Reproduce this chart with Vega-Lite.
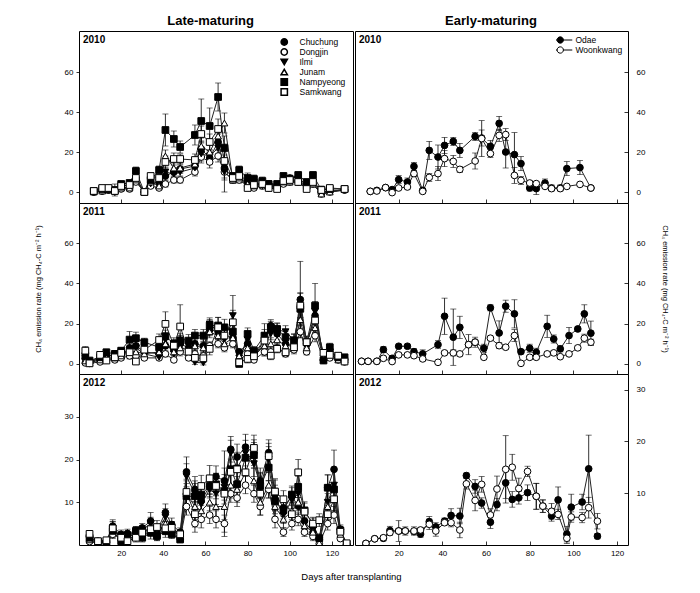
{
"$schema":"https://vega.github.io/schema/vega-lite/v6.json",
"padding":{"left":33,"top":14,"right":20,"bottom":8},
"background":"white",
"config":{
 "font":"Liberation Sans",
 "view":{"stroke":"black","strokeWidth":1},
 "axis":{"labelFont":"Liberation Sans","labelFontSize":8,"labelColor":"black","tickColor":"black","tickWidth":0.8,"domain":false,"grid":false,"titleFont":"Liberation Sans","titleFontSize":7.5,"titleColor":"black","titleFontWeight":"normal"},
 "legend":{"labelFont":"Liberation Sans","labelFontSize":8.5,"labelColor":"black","symbolSize":40,"rowPadding":1,"padding":0,"labelOffset":11,"clipHeight":8},
 "title":{"font":"Liberation Sans","color":"black"}
},
"title":{"text":"Days after transplanting","orient":"bottom","anchor":"middle","fontSize":9.5,"fontWeight":"normal","offset":14},
"datasets":{
"L10":[
{"s":"Chuchung","d":7,"v":0,"e":0.3},{"s":"Chuchung","d":11,"v":0.5,"e":0.3},{"s":"Chuchung","d":14,"v":1,"e":0.5},{"s":"Chuchung","d":17,"v":0.3,"e":0.5},{"s":"Chuchung","d":20,"v":2,"e":0.5},{"s":"Chuchung","d":24,"v":2.5,"e":0.8},{"s":"Chuchung","d":27,"v":7,"e":1.5},{"s":"Chuchung","d":31,"v":0,"e":0.5},{"s":"Chuchung","d":34,"v":4,"e":1.5},{"s":"Chuchung","d":38,"v":5,"e":1.5},{"s":"Chuchung","d":41,"v":8,"e":2},{"s":"Chuchung","d":45,"v":10,"e":2},{"s":"Chuchung","d":48,"v":11.5,"e":2},{"s":"Chuchung","d":55,"v":13,"e":2.5},{"s":"Chuchung","d":58,"v":21.5,"e":4},{"s":"Chuchung","d":62,"v":17,"e":3},{"s":"Chuchung","d":66,"v":25,"e":4},{"s":"Chuchung","d":69,"v":12,"e":12},{"s":"Chuchung","d":73,"v":7,"e":1.5},{"s":"Chuchung","d":76,"v":9,"e":2},{"s":"Chuchung","d":80,"v":5,"e":2},{"s":"Chuchung","d":83,"v":4,"e":1.5},{"s":"Chuchung","d":87,"v":4,"e":1.5},{"s":"Chuchung","d":90,"v":4,"e":1.5},{"s":"Chuchung","d":94,"v":3,"e":1},{"s":"Chuchung","d":97,"v":5,"e":1.5},{"s":"Chuchung","d":100,"v":7,"e":1.5},{"s":"Chuchung","d":104,"v":7.5,"e":1.5},{"s":"Chuchung","d":108,"v":3,"e":1},{"s":"Chuchung","d":111,"v":6,"e":1.5},{"s":"Chuchung","d":115,"v":0,"e":1},{"s":"Chuchung","d":119,"v":0.5,"e":0.5},{"s":"Chuchung","d":126,"v":1,"e":0.3},
{"s":"Dongjin","d":7,"v":0,"e":0.3},{"s":"Dongjin","d":11,"v":0.5,"e":0.3},{"s":"Dongjin","d":14,"v":1,"e":0.5},{"s":"Dongjin","d":17,"v":0.2,"e":0.5},{"s":"Dongjin","d":20,"v":1.5,"e":0.5},{"s":"Dongjin","d":24,"v":1.5,"e":0.5},{"s":"Dongjin","d":27,"v":5,"e":1},{"s":"Dongjin","d":31,"v":0,"e":0.5},{"s":"Dongjin","d":34,"v":3,"e":1},{"s":"Dongjin","d":38,"v":2,"e":1},{"s":"Dongjin","d":41,"v":4,"e":1.5},{"s":"Dongjin","d":45,"v":6,"e":1.5},{"s":"Dongjin","d":48,"v":6,"e":1.5},{"s":"Dongjin","d":55,"v":10,"e":2},{"s":"Dongjin","d":58,"v":17.5,"e":3},{"s":"Dongjin","d":62,"v":15,"e":3},{"s":"Dongjin","d":66,"v":18,"e":3},{"s":"Dongjin","d":69,"v":10,"e":3},{"s":"Dongjin","d":73,"v":6,"e":1.5},{"s":"Dongjin","d":76,"v":6,"e":1.5},{"s":"Dongjin","d":80,"v":3,"e":1},{"s":"Dongjin","d":83,"v":2,"e":1},{"s":"Dongjin","d":87,"v":3,"e":1},{"s":"Dongjin","d":90,"v":2,"e":1},{"s":"Dongjin","d":94,"v":2,"e":1},{"s":"Dongjin","d":97,"v":4,"e":1},{"s":"Dongjin","d":100,"v":5,"e":1},{"s":"Dongjin","d":104,"v":5,"e":1},{"s":"Dongjin","d":108,"v":2,"e":1},{"s":"Dongjin","d":111,"v":4,"e":1},{"s":"Dongjin","d":115,"v":-1,"e":1},{"s":"Dongjin","d":119,"v":0,"e":0.5},{"s":"Dongjin","d":126,"v":1,"e":0.3},
{"s":"Ilmi","d":7,"v":0,"e":0.3},{"s":"Ilmi","d":11,"v":0.5,"e":0.3},{"s":"Ilmi","d":14,"v":1,"e":0.5},{"s":"Ilmi","d":17,"v":0,"e":0.5},{"s":"Ilmi","d":20,"v":2,"e":0.5},{"s":"Ilmi","d":24,"v":2,"e":0.8},{"s":"Ilmi","d":27,"v":6,"e":1.5},{"s":"Ilmi","d":31,"v":0,"e":0.5},{"s":"Ilmi","d":34,"v":4,"e":1.5},{"s":"Ilmi","d":38,"v":5,"e":1.5},{"s":"Ilmi","d":41,"v":10,"e":2.5},{"s":"Ilmi","d":45,"v":9,"e":2},{"s":"Ilmi","d":48,"v":10,"e":2},{"s":"Ilmi","d":55,"v":12,"e":2.5},{"s":"Ilmi","d":58,"v":19,"e":3.5},{"s":"Ilmi","d":62,"v":18,"e":3},{"s":"Ilmi","d":66,"v":22,"e":4},{"s":"Ilmi","d":69,"v":10,"e":4},{"s":"Ilmi","d":73,"v":6,"e":1.5},{"s":"Ilmi","d":76,"v":8,"e":2},{"s":"Ilmi","d":80,"v":4,"e":1.5},{"s":"Ilmi","d":83,"v":3,"e":1.5},{"s":"Ilmi","d":87,"v":3,"e":1.5},{"s":"Ilmi","d":90,"v":3,"e":1.5},{"s":"Ilmi","d":94,"v":2,"e":1},{"s":"Ilmi","d":97,"v":5,"e":1.5},{"s":"Ilmi","d":100,"v":6,"e":1.5},{"s":"Ilmi","d":104,"v":6,"e":1.5},{"s":"Ilmi","d":108,"v":2,"e":1},{"s":"Ilmi","d":111,"v":5,"e":1.5},{"s":"Ilmi","d":115,"v":-1,"e":1},{"s":"Ilmi","d":119,"v":0,"e":0.5},{"s":"Ilmi","d":126,"v":1,"e":0.3},
{"s":"Junam","d":7,"v":0,"e":0.3},{"s":"Junam","d":11,"v":0.5,"e":0.3},{"s":"Junam","d":14,"v":1,"e":0.5},{"s":"Junam","d":17,"v":0.5,"e":0.5},{"s":"Junam","d":20,"v":2,"e":0.5},{"s":"Junam","d":24,"v":2,"e":0.8},{"s":"Junam","d":27,"v":6,"e":1.5},{"s":"Junam","d":31,"v":0,"e":0.5},{"s":"Junam","d":34,"v":5,"e":1.5},{"s":"Junam","d":38,"v":3,"e":1},{"s":"Junam","d":41,"v":18,"e":3},{"s":"Junam","d":45,"v":12,"e":2.5},{"s":"Junam","d":48,"v":12,"e":2.5},{"s":"Junam","d":55,"v":14,"e":3},{"s":"Junam","d":58,"v":23,"e":4},{"s":"Junam","d":62,"v":20,"e":3.5},{"s":"Junam","d":66,"v":28,"e":5},{"s":"Junam","d":69,"v":34.5,"e":5},{"s":"Junam","d":73,"v":6,"e":1.5},{"s":"Junam","d":76,"v":7,"e":2},{"s":"Junam","d":80,"v":4,"e":1.5},{"s":"Junam","d":83,"v":3,"e":1},{"s":"Junam","d":87,"v":4,"e":1.5},{"s":"Junam","d":90,"v":3,"e":1},{"s":"Junam","d":94,"v":3,"e":1},{"s":"Junam","d":97,"v":5,"e":1.5},{"s":"Junam","d":100,"v":5,"e":1.5},{"s":"Junam","d":104,"v":6,"e":1.5},{"s":"Junam","d":108,"v":3,"e":1},{"s":"Junam","d":111,"v":4,"e":1.5},{"s":"Junam","d":115,"v":-1,"e":1},{"s":"Junam","d":119,"v":0,"e":0.5},{"s":"Junam","d":126,"v":1.5,"e":0.3},
{"s":"Nampyeong","d":7,"v":0.5,"e":0.5},{"s":"Nampyeong","d":11,"v":1.5,"e":0.5},{"s":"Nampyeong","d":14,"v":1.5,"e":0.5},{"s":"Nampyeong","d":17,"v":1,"e":3},{"s":"Nampyeong","d":20,"v":4,"e":1},{"s":"Nampyeong","d":24,"v":4.5,"e":1.5},{"s":"Nampyeong","d":27,"v":10.5,"e":2},{"s":"Nampyeong","d":31,"v":0,"e":0.5},{"s":"Nampyeong","d":34,"v":6,"e":1.5},{"s":"Nampyeong","d":38,"v":11,"e":2},{"s":"Nampyeong","d":41,"v":31,"e":8},{"s":"Nampyeong","d":45,"v":26.5,"e":4},{"s":"Nampyeong","d":48,"v":22.5,"e":3},{"s":"Nampyeong","d":55,"v":28.5,"e":5},{"s":"Nampyeong","d":58,"v":35.5,"e":11},{"s":"Nampyeong","d":62,"v":33,"e":9},{"s":"Nampyeong","d":66,"v":47.5,"e":7},{"s":"Nampyeong","d":69,"v":22,"e":6},{"s":"Nampyeong","d":73,"v":8,"e":1.5},{"s":"Nampyeong","d":76,"v":11,"e":2},{"s":"Nampyeong","d":80,"v":7,"e":2.5},{"s":"Nampyeong","d":83,"v":6.5,"e":2},{"s":"Nampyeong","d":87,"v":5.5,"e":2},{"s":"Nampyeong","d":90,"v":4,"e":1.5},{"s":"Nampyeong","d":94,"v":4,"e":1.5},{"s":"Nampyeong","d":97,"v":8,"e":1.5},{"s":"Nampyeong","d":100,"v":6.5,"e":1.5},{"s":"Nampyeong","d":104,"v":8.5,"e":1.5},{"s":"Nampyeong","d":108,"v":5,"e":1},{"s":"Nampyeong","d":111,"v":8.5,"e":1.5},{"s":"Nampyeong","d":115,"v":1,"e":2},{"s":"Nampyeong","d":119,"v":1.5,"e":0.5},{"s":"Nampyeong","d":126,"v":1.5,"e":0.5},
{"s":"Samkwang","d":7,"v":0.5,"e":0.5},{"s":"Samkwang","d":11,"v":2,"e":0.5},{"s":"Samkwang","d":14,"v":2,"e":0.5},{"s":"Samkwang","d":17,"v":0.5,"e":1},{"s":"Samkwang","d":20,"v":3,"e":1},{"s":"Samkwang","d":24,"v":3.5,"e":1},{"s":"Samkwang","d":27,"v":7,"e":1.5},{"s":"Samkwang","d":31,"v":0,"e":0.5},{"s":"Samkwang","d":34,"v":8,"e":1.5},{"s":"Samkwang","d":38,"v":7,"e":1.5},{"s":"Samkwang","d":41,"v":15,"e":3},{"s":"Samkwang","d":45,"v":16.5,"e":3},{"s":"Samkwang","d":48,"v":16.5,"e":2.5},{"s":"Samkwang","d":55,"v":16,"e":3},{"s":"Samkwang","d":58,"v":29,"e":4},{"s":"Samkwang","d":62,"v":25,"e":4},{"s":"Samkwang","d":66,"v":31.5,"e":5},{"s":"Samkwang","d":69,"v":15.5,"e":3},{"s":"Samkwang","d":73,"v":7,"e":1.5},{"s":"Samkwang","d":76,"v":8,"e":1.5},{"s":"Samkwang","d":80,"v":2,"e":1},{"s":"Samkwang","d":83,"v":3.5,"e":1},{"s":"Samkwang","d":87,"v":4,"e":1},{"s":"Samkwang","d":90,"v":2,"e":1},{"s":"Samkwang","d":94,"v":1.5,"e":1},{"s":"Samkwang","d":97,"v":5.5,"e":1.5},{"s":"Samkwang","d":100,"v":6,"e":1.5},{"s":"Samkwang","d":104,"v":5,"e":1.5},{"s":"Samkwang","d":108,"v":1.5,"e":1},{"s":"Samkwang","d":111,"v":5,"e":1.5},{"s":"Samkwang","d":115,"v":1,"e":1},{"s":"Samkwang","d":119,"v":2,"e":0.5},{"s":"Samkwang","d":126,"v":1.5,"e":0.5}
],
"L11":[
{"s":"Chuchung","d":3,"v":2.5,"e":1},{"s":"Chuchung","d":5,"v":1,"e":0.5},{"s":"Chuchung","d":10,"v":2.5,"e":1},{"s":"Chuchung","d":13,"v":4,"e":1.5},{"s":"Chuchung","d":17,"v":4,"e":1.5},{"s":"Chuchung","d":20,"v":4.5,"e":1.5},{"s":"Chuchung","d":24,"v":8,"e":2},{"s":"Chuchung","d":27,"v":9,"e":2},{"s":"Chuchung","d":31,"v":6,"e":2},{"s":"Chuchung","d":38,"v":5,"e":2},{"s":"Chuchung","d":41,"v":9,"e":3},{"s":"Chuchung","d":45,"v":7,"e":3},{"s":"Chuchung","d":48,"v":10,"e":3},{"s":"Chuchung","d":52,"v":8,"e":3},{"s":"Chuchung","d":55,"v":10,"e":3},{"s":"Chuchung","d":59,"v":9,"e":3},{"s":"Chuchung","d":62,"v":17,"e":3},{"s":"Chuchung","d":66,"v":16,"e":4},{"s":"Chuchung","d":69,"v":14,"e":4},{"s":"Chuchung","d":73,"v":13,"e":4},{"s":"Chuchung","d":76,"v":6,"e":1.5},{"s":"Chuchung","d":80,"v":10,"e":3},{"s":"Chuchung","d":83,"v":5,"e":2},{"s":"Chuchung","d":88,"v":12,"e":8},{"s":"Chuchung","d":91,"v":19,"e":3},{"s":"Chuchung","d":94,"v":15,"e":3},{"s":"Chuchung","d":98,"v":10,"e":2},{"s":"Chuchung","d":102,"v":9,"e":3},{"s":"Chuchung","d":105,"v":32,"e":19},{"s":"Chuchung","d":108,"v":10,"e":2},{"s":"Chuchung","d":112,"v":24,"e":6},{"s":"Chuchung","d":116,"v":2,"e":1},{"s":"Chuchung","d":119,"v":7,"e":2},{"s":"Chuchung","d":123,"v":3,"e":1},{"s":"Chuchung","d":126,"v":2,"e":0.5},
{"s":"Dongjin","d":3,"v":0.5,"e":0.5},{"s":"Dongjin","d":5,"v":0.3,"e":0.3},{"s":"Dongjin","d":10,"v":1,"e":0.5},{"s":"Dongjin","d":13,"v":2,"e":1},{"s":"Dongjin","d":17,"v":2,"e":1},{"s":"Dongjin","d":20,"v":3,"e":1},{"s":"Dongjin","d":24,"v":4,"e":1.5},{"s":"Dongjin","d":27,"v":4,"e":1.5},{"s":"Dongjin","d":31,"v":3,"e":1},{"s":"Dongjin","d":38,"v":3,"e":1},{"s":"Dongjin","d":41,"v":5,"e":1.5},{"s":"Dongjin","d":45,"v":2,"e":1},{"s":"Dongjin","d":48,"v":6,"e":2},{"s":"Dongjin","d":52,"v":3,"e":1},{"s":"Dongjin","d":55,"v":5,"e":1.5},{"s":"Dongjin","d":59,"v":4,"e":1.5},{"s":"Dongjin","d":62,"v":9,"e":2},{"s":"Dongjin","d":66,"v":10,"e":2},{"s":"Dongjin","d":69,"v":8,"e":2},{"s":"Dongjin","d":73,"v":10,"e":2},{"s":"Dongjin","d":76,"v":2,"e":1},{"s":"Dongjin","d":80,"v":5,"e":1.5},{"s":"Dongjin","d":83,"v":2,"e":1},{"s":"Dongjin","d":88,"v":6,"e":2},{"s":"Dongjin","d":91,"v":6,"e":2},{"s":"Dongjin","d":94,"v":8,"e":2},{"s":"Dongjin","d":98,"v":5,"e":1.5},{"s":"Dongjin","d":102,"v":7,"e":2},{"s":"Dongjin","d":105,"v":16,"e":3},{"s":"Dongjin","d":108,"v":6,"e":1.5},{"s":"Dongjin","d":112,"v":14,"e":3},{"s":"Dongjin","d":116,"v":2,"e":0.5},{"s":"Dongjin","d":119,"v":3,"e":1},{"s":"Dongjin","d":123,"v":2,"e":0.5},{"s":"Dongjin","d":126,"v":1,"e":0.3},
{"s":"Ilmi","d":3,"v":3,"e":1},{"s":"Ilmi","d":5,"v":1,"e":0.5},{"s":"Ilmi","d":10,"v":3,"e":1},{"s":"Ilmi","d":13,"v":4,"e":1.5},{"s":"Ilmi","d":17,"v":4.5,"e":1.5},{"s":"Ilmi","d":20,"v":5,"e":1.5},{"s":"Ilmi","d":24,"v":7,"e":2},{"s":"Ilmi","d":27,"v":8,"e":2},{"s":"Ilmi","d":31,"v":5,"e":2},{"s":"Ilmi","d":38,"v":3.3,"e":1},{"s":"Ilmi","d":41,"v":12,"e":3},{"s":"Ilmi","d":45,"v":5,"e":2},{"s":"Ilmi","d":48,"v":12,"e":3},{"s":"Ilmi","d":52,"v":9,"e":3},{"s":"Ilmi","d":55,"v":0.8,"e":1},{"s":"Ilmi","d":59,"v":0.5,"e":1},{"s":"Ilmi","d":62,"v":19.9,"e":3},{"s":"Ilmi","d":66,"v":16,"e":3},{"s":"Ilmi","d":69,"v":12,"e":3},{"s":"Ilmi","d":73,"v":24,"e":10},{"s":"Ilmi","d":76,"v":3,"e":1.5},{"s":"Ilmi","d":80,"v":12,"e":3},{"s":"Ilmi","d":83,"v":4,"e":2},{"s":"Ilmi","d":88,"v":10,"e":3},{"s":"Ilmi","d":91,"v":15,"e":3},{"s":"Ilmi","d":94,"v":17,"e":3},{"s":"Ilmi","d":98,"v":16,"e":3},{"s":"Ilmi","d":102,"v":12,"e":3},{"s":"Ilmi","d":105,"v":28,"e":5},{"s":"Ilmi","d":108,"v":9,"e":3},{"s":"Ilmi","d":112,"v":26,"e":5},{"s":"Ilmi","d":116,"v":3,"e":1},{"s":"Ilmi","d":119,"v":6,"e":2},{"s":"Ilmi","d":123,"v":3,"e":1},{"s":"Ilmi","d":126,"v":2,"e":0.5},
{"s":"Junam","d":3,"v":1.5,"e":1},{"s":"Junam","d":5,"v":0.5,"e":0.5},{"s":"Junam","d":10,"v":2,"e":1},{"s":"Junam","d":13,"v":3,"e":1},{"s":"Junam","d":17,"v":3,"e":1.5},{"s":"Junam","d":20,"v":4,"e":1.5},{"s":"Junam","d":24,"v":6,"e":2},{"s":"Junam","d":27,"v":6,"e":2},{"s":"Junam","d":31,"v":5,"e":1.5},{"s":"Junam","d":38,"v":6,"e":2},{"s":"Junam","d":41,"v":10,"e":2.5},{"s":"Junam","d":45,"v":6,"e":2},{"s":"Junam","d":48,"v":8,"e":2.5},{"s":"Junam","d":52,"v":7,"e":2.5},{"s":"Junam","d":55,"v":9,"e":2.5},{"s":"Junam","d":59,"v":8,"e":2.5},{"s":"Junam","d":62,"v":16,"e":3},{"s":"Junam","d":66,"v":14,"e":3},{"s":"Junam","d":69,"v":10,"e":3},{"s":"Junam","d":73,"v":13,"e":3},{"s":"Junam","d":76,"v":4,"e":1.5},{"s":"Junam","d":80,"v":8,"e":2.5},{"s":"Junam","d":83,"v":4,"e":1.5},{"s":"Junam","d":88,"v":9,"e":2.5},{"s":"Junam","d":91,"v":10,"e":3},{"s":"Junam","d":94,"v":12,"e":3},{"s":"Junam","d":98,"v":9,"e":2.5},{"s":"Junam","d":102,"v":9,"e":2.5},{"s":"Junam","d":105,"v":22,"e":5},{"s":"Junam","d":108,"v":8,"e":2.5},{"s":"Junam","d":112,"v":18,"e":4},{"s":"Junam","d":116,"v":3,"e":1},{"s":"Junam","d":119,"v":5,"e":1.5},{"s":"Junam","d":123,"v":2,"e":1},{"s":"Junam","d":126,"v":2,"e":0.5},
{"s":"Nampyeong","d":3,"v":4,"e":1.5},{"s":"Nampyeong","d":5,"v":1.7,"e":0.5},{"s":"Nampyeong","d":10,"v":3.3,"e":1},{"s":"Nampyeong","d":13,"v":5.8,"e":1.5},{"s":"Nampyeong","d":17,"v":5,"e":1.5},{"s":"Nampyeong","d":20,"v":6.6,"e":1.5},{"s":"Nampyeong","d":24,"v":12.1,"e":4},{"s":"Nampyeong","d":27,"v":12.8,"e":3},{"s":"Nampyeong","d":31,"v":10.8,"e":2},{"s":"Nampyeong","d":38,"v":8.3,"e":3},{"s":"Nampyeong","d":41,"v":13.8,"e":3},{"s":"Nampyeong","d":45,"v":10,"e":3},{"s":"Nampyeong","d":48,"v":11.1,"e":3},{"s":"Nampyeong","d":52,"v":11.6,"e":3},{"s":"Nampyeong","d":55,"v":14.1,"e":3},{"s":"Nampyeong","d":59,"v":14.1,"e":3},{"s":"Nampyeong","d":62,"v":19.1,"e":3},{"s":"Nampyeong","d":66,"v":19.1,"e":4},{"s":"Nampyeong","d":69,"v":18.2,"e":4},{"s":"Nampyeong","d":73,"v":16.1,"e":4},{"s":"Nampyeong","d":76,"v":0,"e":1},{"s":"Nampyeong","d":80,"v":14.9,"e":3},{"s":"Nampyeong","d":83,"v":6.6,"e":2},{"s":"Nampyeong","d":88,"v":14.1,"e":3},{"s":"Nampyeong","d":91,"v":18.2,"e":3},{"s":"Nampyeong","d":94,"v":17.4,"e":3},{"s":"Nampyeong","d":98,"v":13.3,"e":3},{"s":"Nampyeong","d":102,"v":11.6,"e":3},{"s":"Nampyeong","d":105,"v":27.4,"e":8},{"s":"Nampyeong","d":108,"v":10.8,"e":3},{"s":"Nampyeong","d":112,"v":29,"e":11},{"s":"Nampyeong","d":116,"v":1.7,"e":1},{"s":"Nampyeong","d":119,"v":8.3,"e":2},{"s":"Nampyeong","d":123,"v":3.3,"e":1},{"s":"Nampyeong","d":126,"v":3.3,"e":0.5},
{"s":"Samkwang","d":3,"v":6.6,"e":2},{"s":"Samkwang","d":5,"v":0.3,"e":0.5},{"s":"Samkwang","d":10,"v":4.5,"e":1},{"s":"Samkwang","d":13,"v":1.7,"e":1},{"s":"Samkwang","d":17,"v":3.3,"e":1.5},{"s":"Samkwang","d":20,"v":5.5,"e":1.5},{"s":"Samkwang","d":24,"v":5.8,"e":2},{"s":"Samkwang","d":27,"v":1.2,"e":1},{"s":"Samkwang","d":31,"v":7.1,"e":2},{"s":"Samkwang","d":38,"v":11.9,"e":3},{"s":"Samkwang","d":41,"v":19.9,"e":6},{"s":"Samkwang","d":45,"v":9.1,"e":3},{"s":"Samkwang","d":48,"v":18.6,"e":10.8},{"s":"Samkwang","d":52,"v":6.1,"e":3},{"s":"Samkwang","d":55,"v":3,"e":2},{"s":"Samkwang","d":59,"v":2.8,"e":2},{"s":"Samkwang","d":62,"v":7.5,"e":3},{"s":"Samkwang","d":66,"v":18.2,"e":5},{"s":"Samkwang","d":69,"v":14.1,"e":4},{"s":"Samkwang","d":73,"v":20.7,"e":6},{"s":"Samkwang","d":76,"v":0.8,"e":1},{"s":"Samkwang","d":80,"v":2.5,"e":2},{"s":"Samkwang","d":83,"v":3.8,"e":2},{"s":"Samkwang","d":88,"v":11.6,"e":4},{"s":"Samkwang","d":91,"v":4.1,"e":2},{"s":"Samkwang","d":94,"v":7.5,"e":2},{"s":"Samkwang","d":98,"v":5.8,"e":2},{"s":"Samkwang","d":102,"v":8.3,"e":2},{"s":"Samkwang","d":105,"v":29,"e":6},{"s":"Samkwang","d":108,"v":10.8,"e":3},{"s":"Samkwang","d":112,"v":21.6,"e":6},{"s":"Samkwang","d":116,"v":5.5,"e":1.5},{"s":"Samkwang","d":119,"v":4.5,"e":1.5},{"s":"Samkwang","d":123,"v":4.1,"e":1},{"s":"Samkwang","d":126,"v":1.2,"e":0.5}
],
"L12":[
{"s":"Chuchung","d":5,"v":1.9,"e":0.5},{"s":"Chuchung","d":9,"v":0.9,"e":0.3},{"s":"Chuchung","d":13,"v":0.9,"e":0.3},{"s":"Chuchung","d":16,"v":4.4,"e":1.5},{"s":"Chuchung","d":20,"v":2.5,"e":1},{"s":"Chuchung","d":23,"v":2.7,"e":1},{"s":"Chuchung","d":27,"v":3.3,"e":1},{"s":"Chuchung","d":30,"v":4,"e":1},{"s":"Chuchung","d":34,"v":5.6,"e":2},{"s":"Chuchung","d":37,"v":3.3,"e":1},{"s":"Chuchung","d":41,"v":7.6,"e":2},{"s":"Chuchung","d":44,"v":4.8,"e":1.5},{"s":"Chuchung","d":48,"v":3,"e":1},{"s":"Chuchung","d":51,"v":17.1,"e":3.5},{"s":"Chuchung","d":55,"v":13,"e":3},{"s":"Chuchung","d":58,"v":10.3,"e":2},{"s":"Chuchung","d":62,"v":13.8,"e":2},{"s":"Chuchung","d":65,"v":16,"e":2.5},{"s":"Chuchung","d":69,"v":15,"e":3},{"s":"Chuchung","d":72,"v":22.4,"e":3},{"s":"Chuchung","d":75,"v":20.6,"e":3},{"s":"Chuchung","d":79,"v":22.9,"e":3},{"s":"Chuchung","d":83,"v":21.6,"e":3},{"s":"Chuchung","d":86,"v":15,"e":3},{"s":"Chuchung","d":90,"v":21.6,"e":3},{"s":"Chuchung","d":93,"v":12.2,"e":3},{"s":"Chuchung","d":97,"v":8.7,"e":2},{"s":"Chuchung","d":101,"v":11.4,"e":2},{"s":"Chuchung","d":104,"v":9.1,"e":2},{"s":"Chuchung","d":107,"v":5.6,"e":2},{"s":"Chuchung","d":111,"v":2.9,"e":1.5},{"s":"Chuchung","d":114,"v":1.3,"e":1},{"s":"Chuchung","d":118,"v":13.4,"e":3},{"s":"Chuchung","d":121,"v":17.7,"e":4.5},{"s":"Chuchung","d":124,"v":3.7,"e":1},{"s":"Chuchung","d":127,"v":0.2,"e":0.2},
{"s":"Dongjin","d":5,"v":0.8,"e":0.3},{"s":"Dongjin","d":9,"v":0.4,"e":0.2},{"s":"Dongjin","d":13,"v":0.6,"e":0.3},{"s":"Dongjin","d":16,"v":2.5,"e":1},{"s":"Dongjin","d":20,"v":1.5,"e":0.8},{"s":"Dongjin","d":23,"v":1.5,"e":0.8},{"s":"Dongjin","d":27,"v":2,"e":0.8},{"s":"Dongjin","d":30,"v":2.5,"e":1},{"s":"Dongjin","d":34,"v":3,"e":1},{"s":"Dongjin","d":37,"v":2,"e":1},{"s":"Dongjin","d":41,"v":4,"e":1.5},{"s":"Dongjin","d":44,"v":3,"e":1},{"s":"Dongjin","d":48,"v":1.5,"e":0.8},{"s":"Dongjin","d":51,"v":9,"e":2},{"s":"Dongjin","d":55,"v":5,"e":2},{"s":"Dongjin","d":58,"v":6,"e":2},{"s":"Dongjin","d":62,"v":7,"e":2},{"s":"Dongjin","d":65,"v":6,"e":2},{"s":"Dongjin","d":69,"v":5,"e":2},{"s":"Dongjin","d":72,"v":12,"e":2},{"s":"Dongjin","d":75,"v":11,"e":2},{"s":"Dongjin","d":79,"v":14,"e":2},{"s":"Dongjin","d":83,"v":12,"e":2},{"s":"Dongjin","d":86,"v":9,"e":2},{"s":"Dongjin","d":90,"v":13,"e":2},{"s":"Dongjin","d":93,"v":6,"e":2},{"s":"Dongjin","d":97,"v":3,"e":1},{"s":"Dongjin","d":101,"v":5,"e":1.5},{"s":"Dongjin","d":104,"v":6,"e":1.5},{"s":"Dongjin","d":107,"v":3,"e":1},{"s":"Dongjin","d":111,"v":2,"e":1},{"s":"Dongjin","d":114,"v":0.3,"e":0.3},{"s":"Dongjin","d":118,"v":5,"e":1.5},{"s":"Dongjin","d":121,"v":7,"e":2},{"s":"Dongjin","d":124,"v":1.5,"e":0.5},{"s":"Dongjin","d":127,"v":0.1,"e":0.1},
{"s":"Ilmi","d":5,"v":1.5,"e":0.5},{"s":"Ilmi","d":9,"v":0.7,"e":0.3},{"s":"Ilmi","d":13,"v":0.8,"e":0.3},{"s":"Ilmi","d":16,"v":4,"e":1.5},{"s":"Ilmi","d":20,"v":2,"e":1},{"s":"Ilmi","d":23,"v":2.2,"e":1},{"s":"Ilmi","d":27,"v":3,"e":1},{"s":"Ilmi","d":30,"v":3.5,"e":1},{"s":"Ilmi","d":34,"v":5,"e":1.5},{"s":"Ilmi","d":37,"v":3,"e":1},{"s":"Ilmi","d":41,"v":6.5,"e":2},{"s":"Ilmi","d":44,"v":4,"e":1.5},{"s":"Ilmi","d":48,"v":2.5,"e":1},{"s":"Ilmi","d":51,"v":16,"e":3},{"s":"Ilmi","d":55,"v":12,"e":3},{"s":"Ilmi","d":58,"v":9.5,"e":2},{"s":"Ilmi","d":62,"v":13,"e":2},{"s":"Ilmi","d":65,"v":12,"e":2.5},{"s":"Ilmi","d":69,"v":13.5,"e":3},{"s":"Ilmi","d":72,"v":21.5,"e":3},{"s":"Ilmi","d":75,"v":18,"e":3},{"s":"Ilmi","d":79,"v":21.5,"e":3},{"s":"Ilmi","d":83,"v":19,"e":3},{"s":"Ilmi","d":86,"v":14,"e":3},{"s":"Ilmi","d":90,"v":20,"e":3},{"s":"Ilmi","d":93,"v":11,"e":3},{"s":"Ilmi","d":97,"v":7,"e":2},{"s":"Ilmi","d":101,"v":10.5,"e":2},{"s":"Ilmi","d":104,"v":12,"e":2},{"s":"Ilmi","d":107,"v":5,"e":2},{"s":"Ilmi","d":111,"v":3.5,"e":1.5},{"s":"Ilmi","d":114,"v":1,"e":1},{"s":"Ilmi","d":118,"v":10,"e":3},{"s":"Ilmi","d":121,"v":14,"e":3.5},{"s":"Ilmi","d":124,"v":3,"e":1},{"s":"Ilmi","d":127,"v":0.3,"e":0.2},
{"s":"Junam","d":5,"v":1.2,"e":0.5},{"s":"Junam","d":9,"v":0.5,"e":0.3},{"s":"Junam","d":13,"v":0.8,"e":0.3},{"s":"Junam","d":16,"v":3.5,"e":1},{"s":"Junam","d":20,"v":1.8,"e":1},{"s":"Junam","d":23,"v":2,"e":1},{"s":"Junam","d":27,"v":2.5,"e":1},{"s":"Junam","d":30,"v":3,"e":1},{"s":"Junam","d":34,"v":4,"e":1.5},{"s":"Junam","d":37,"v":2.5,"e":1},{"s":"Junam","d":41,"v":5,"e":2},{"s":"Junam","d":44,"v":3.5,"e":1.5},{"s":"Junam","d":48,"v":2,"e":1},{"s":"Junam","d":51,"v":12,"e":3},{"s":"Junam","d":55,"v":9,"e":3},{"s":"Junam","d":58,"v":8,"e":2},{"s":"Junam","d":62,"v":10,"e":2},{"s":"Junam","d":65,"v":9,"e":2.5},{"s":"Junam","d":69,"v":9,"e":3},{"s":"Junam","d":72,"v":14,"e":3},{"s":"Junam","d":75,"v":13,"e":3},{"s":"Junam","d":79,"v":17,"e":3},{"s":"Junam","d":83,"v":15,"e":3},{"s":"Junam","d":86,"v":10,"e":3},{"s":"Junam","d":90,"v":14,"e":3},{"s":"Junam","d":93,"v":9,"e":3},{"s":"Junam","d":97,"v":6,"e":2},{"s":"Junam","d":101,"v":8,"e":2},{"s":"Junam","d":104,"v":10,"e":2},{"s":"Junam","d":107,"v":4.5,"e":2},{"s":"Junam","d":111,"v":3,"e":1.5},{"s":"Junam","d":114,"v":0.5,"e":1},{"s":"Junam","d":118,"v":9,"e":3},{"s":"Junam","d":121,"v":11,"e":3},{"s":"Junam","d":124,"v":2.5,"e":1},{"s":"Junam","d":127,"v":0.2,"e":0.2},
{"s":"Nampyeong","d":5,"v":1.7,"e":0.5},{"s":"Nampyeong","d":9,"v":0.8,"e":0.3},{"s":"Nampyeong","d":13,"v":0.5,"e":0.3},{"s":"Nampyeong","d":16,"v":3.3,"e":1.5},{"s":"Nampyeong","d":20,"v":0.9,"e":0.5},{"s":"Nampyeong","d":23,"v":1.9,"e":1},{"s":"Nampyeong","d":27,"v":3.3,"e":1},{"s":"Nampyeong","d":30,"v":1.7,"e":1},{"s":"Nampyeong","d":34,"v":2.9,"e":1.5},{"s":"Nampyeong","d":37,"v":2.1,"e":1},{"s":"Nampyeong","d":41,"v":3.3,"e":1.5},{"s":"Nampyeong","d":44,"v":2.5,"e":1},{"s":"Nampyeong","d":48,"v":1.3,"e":0.8},{"s":"Nampyeong","d":51,"v":11.4,"e":3},{"s":"Nampyeong","d":55,"v":11.4,"e":3},{"s":"Nampyeong","d":58,"v":11.8,"e":2.5},{"s":"Nampyeong","d":62,"v":13.8,"e":2.5},{"s":"Nampyeong","d":65,"v":14.2,"e":2.5},{"s":"Nampyeong","d":69,"v":12.6,"e":3},{"s":"Nampyeong","d":72,"v":17.7,"e":4},{"s":"Nampyeong","d":75,"v":14.2,"e":3},{"s":"Nampyeong","d":79,"v":20.4,"e":3},{"s":"Nampyeong","d":83,"v":21,"e":3},{"s":"Nampyeong","d":86,"v":13.8,"e":3},{"s":"Nampyeong","d":90,"v":18.1,"e":3},{"s":"Nampyeong","d":93,"v":10.3,"e":3},{"s":"Nampyeong","d":97,"v":8.1,"e":2},{"s":"Nampyeong","d":101,"v":11.8,"e":2},{"s":"Nampyeong","d":104,"v":13.6,"e":2.5},{"s":"Nampyeong","d":107,"v":8.1,"e":2},{"s":"Nampyeong","d":111,"v":4.8,"e":1.5},{"s":"Nampyeong","d":114,"v":1.6,"e":1},{"s":"Nampyeong","d":118,"v":13.4,"e":3},{"s":"Nampyeong","d":121,"v":13,"e":5},{"s":"Nampyeong","d":124,"v":3.4,"e":1},{"s":"Nampyeong","d":127,"v":0.2,"e":0.2},
{"s":"Samkwang","d":5,"v":2.6,"e":0.5},{"s":"Samkwang","d":9,"v":0.9,"e":0.3},{"s":"Samkwang","d":13,"v":1.1,"e":0.3},{"s":"Samkwang","d":16,"v":3.9,"e":1.5},{"s":"Samkwang","d":20,"v":1.7,"e":1},{"s":"Samkwang","d":23,"v":0.9,"e":0.8},{"s":"Samkwang","d":27,"v":1.7,"e":1},{"s":"Samkwang","d":30,"v":2.9,"e":1},{"s":"Samkwang","d":34,"v":3.7,"e":1.5},{"s":"Samkwang","d":37,"v":4.2,"e":1.5},{"s":"Samkwang","d":41,"v":3.9,"e":1.5},{"s":"Samkwang","d":44,"v":4,"e":1.5},{"s":"Samkwang","d":48,"v":2.5,"e":1},{"s":"Samkwang","d":51,"v":12.4,"e":3},{"s":"Samkwang","d":55,"v":7.2,"e":3},{"s":"Samkwang","d":58,"v":13.8,"e":2.5},{"s":"Samkwang","d":62,"v":15.6,"e":3},{"s":"Samkwang","d":65,"v":13.8,"e":3},{"s":"Samkwang","d":69,"v":12,"e":10},{"s":"Samkwang","d":72,"v":17.1,"e":3},{"s":"Samkwang","d":75,"v":17.7,"e":4},{"s":"Samkwang","d":79,"v":17,"e":3},{"s":"Samkwang","d":83,"v":22.7,"e":3},{"s":"Samkwang","d":86,"v":12,"e":3},{"s":"Samkwang","d":90,"v":20.8,"e":3},{"s":"Samkwang","d":93,"v":12.5,"e":3},{"s":"Samkwang","d":97,"v":10.7,"e":2},{"s":"Samkwang","d":101,"v":7.2,"e":2},{"s":"Samkwang","d":104,"v":17,"e":3},{"s":"Samkwang","d":107,"v":7.8,"e":2},{"s":"Samkwang","d":111,"v":5,"e":1.5},{"s":"Samkwang","d":114,"v":5.8,"e":1.5},{"s":"Samkwang","d":118,"v":7.2,"e":2},{"s":"Samkwang","d":121,"v":10.7,"e":3},{"s":"Samkwang","d":124,"v":3.1,"e":1},{"s":"Samkwang","d":127,"v":0.4,"e":0.3}
],
"R10":[
{"s":"Odae","d":7,"v":0.3,"e":0.3},{"s":"Odae","d":10,"v":0.8,"e":0.5},{"s":"Odae","d":14,"v":2.2,"e":0.5},{"s":"Odae","d":17,"v":1.2,"e":1},{"s":"Odae","d":20,"v":6.2,"e":2},{"s":"Odae","d":24,"v":5,"e":2},{"s":"Odae","d":27,"v":12.8,"e":2},{"s":"Odae","d":31,"v":0.8,"e":1},{"s":"Odae","d":34,"v":20.8,"e":4.5},{"s":"Odae","d":38,"v":17.5,"e":6},{"s":"Odae","d":41,"v":23.3,"e":4},{"s":"Odae","d":45,"v":25.3,"e":2},{"s":"Odae","d":48,"v":20.8,"e":3.5},{"s":"Odae","d":55,"v":27.8,"e":2},{"s":"Odae","d":58,"v":27,"e":4},{"s":"Odae","d":62,"v":22.8,"e":3},{"s":"Odae","d":66,"v":34.3,"e":3.5},{"s":"Odae","d":69,"v":20,"e":8},{"s":"Odae","d":73,"v":18.7,"e":11},{"s":"Odae","d":76,"v":14.2,"e":3.5},{"s":"Odae","d":80,"v":2,"e":1.5},{"s":"Odae","d":83,"v":1.7,"e":3},{"s":"Odae","d":87,"v":4.5,"e":2},{"s":"Odae","d":90,"v":2,"e":1.5},{"s":"Odae","d":94,"v":2,"e":1.5},{"s":"Odae","d":97,"v":11.7,"e":3.5},{"s":"Odae","d":103,"v":12.2,"e":3.5},{"s":"Odae","d":108,"v":2,"e":1},
{"s":"Woonkwang","d":7,"v":0.3,"e":0.3},{"s":"Woonkwang","d":10,"v":0.5,"e":0.3},{"s":"Woonkwang","d":14,"v":2.2,"e":0.5},{"s":"Woonkwang","d":17,"v":-0.3,"e":1},{"s":"Woonkwang","d":20,"v":2,"e":0.8},{"s":"Woonkwang","d":24,"v":2.5,"e":1},{"s":"Woonkwang","d":27,"v":9.2,"e":1.5},{"s":"Woonkwang","d":31,"v":0.3,"e":1},{"s":"Woonkwang","d":34,"v":7.3,"e":2},{"s":"Woonkwang","d":38,"v":9.2,"e":3.5},{"s":"Woonkwang","d":41,"v":16.7,"e":4},{"s":"Woonkwang","d":45,"v":15.3,"e":3},{"s":"Woonkwang","d":48,"v":11.3,"e":1.5},{"s":"Woonkwang","d":55,"v":15.5,"e":4},{"s":"Woonkwang","d":58,"v":26.7,"e":9},{"s":"Woonkwang","d":62,"v":19.2,"e":2},{"s":"Woonkwang","d":66,"v":28.3,"e":3},{"s":"Woonkwang","d":69,"v":28.7,"e":3},{"s":"Woonkwang","d":73,"v":8.3,"e":4},{"s":"Woonkwang","d":76,"v":5.8,"e":2},{"s":"Woonkwang","d":80,"v":4.5,"e":1},{"s":"Woonkwang","d":83,"v":4.2,"e":1},{"s":"Woonkwang","d":87,"v":2.8,"e":1},{"s":"Woonkwang","d":90,"v":1.7,"e":1},{"s":"Woonkwang","d":94,"v":1.7,"e":1},{"s":"Woonkwang","d":97,"v":2.8,"e":1},{"s":"Woonkwang","d":103,"v":3.8,"e":1},{"s":"Woonkwang","d":108,"v":2,"e":0.5}
],
"R11":[
{"s":"Odae","d":3,"v":1.3,"e":0.5},{"s":"Odae","d":6,"v":1.3,"e":0.5},{"s":"Odae","d":10,"v":1.3,"e":0.5},{"s":"Odae","d":13,"v":7.1,"e":1.5},{"s":"Odae","d":17,"v":2.8,"e":1},{"s":"Odae","d":20,"v":8.8,"e":1},{"s":"Odae","d":24,"v":8.8,"e":1},{"s":"Odae","d":27,"v":6.1,"e":1.5},{"s":"Odae","d":31,"v":5,"e":2},{"s":"Odae","d":38,"v":9.6,"e":2},{"s":"Odae","d":41,"v":23.7,"e":9},{"s":"Odae","d":45,"v":13.3,"e":14},{"s":"Odae","d":48,"v":18.2,"e":5.5},{"s":"Odae","d":52,"v":9.6,"e":5},{"s":"Odae","d":55,"v":10.8,"e":2.5},{"s":"Odae","d":59,"v":7.8,"e":2},{"s":"Odae","d":62,"v":27.9,"e":1.5},{"s":"Odae","d":66,"v":15.4,"e":6},{"s":"Odae","d":69,"v":28.7,"e":3},{"s":"Odae","d":73,"v":24.9,"e":7},{"s":"Odae","d":76,"v":6.1,"e":1},{"s":"Odae","d":80,"v":7.8,"e":2},{"s":"Odae","d":83,"v":5.8,"e":2},{"s":"Odae","d":88,"v":18.7,"e":5.5},{"s":"Odae","d":91,"v":12.4,"e":2},{"s":"Odae","d":94,"v":7.5,"e":1.5},{"s":"Odae","d":98,"v":14.1,"e":4},{"s":"Odae","d":102,"v":17.4,"e":1},{"s":"Odae","d":105,"v":24.9,"e":4.5},{"s":"Odae","d":108,"v":15.3,"e":6},
{"s":"Woonkwang","d":3,"v":1.3,"e":0.5},{"s":"Woonkwang","d":6,"v":1.3,"e":0.5},{"s":"Woonkwang","d":10,"v":1.3,"e":0.5},{"s":"Woonkwang","d":13,"v":2.8,"e":1},{"s":"Woonkwang","d":17,"v":1.2,"e":0.8},{"s":"Woonkwang","d":20,"v":4.5,"e":1},{"s":"Woonkwang","d":24,"v":4.5,"e":1},{"s":"Woonkwang","d":27,"v":4.1,"e":1},{"s":"Woonkwang","d":31,"v":2.5,"e":1},{"s":"Woonkwang","d":38,"v":0.8,"e":0.5},{"s":"Woonkwang","d":41,"v":5.5,"e":1},{"s":"Woonkwang","d":45,"v":5.5,"e":1.5},{"s":"Woonkwang","d":48,"v":5,"e":1},{"s":"Woonkwang","d":52,"v":9.6,"e":1.5},{"s":"Woonkwang","d":55,"v":10.8,"e":1.5},{"s":"Woonkwang","d":59,"v":3.3,"e":1},{"s":"Woonkwang","d":62,"v":12.8,"e":1},{"s":"Woonkwang","d":66,"v":9.1,"e":1.5},{"s":"Woonkwang","d":69,"v":8.3,"e":1},{"s":"Woonkwang","d":73,"v":14.1,"e":3},{"s":"Woonkwang","d":76,"v":0.3,"e":0.5},{"s":"Woonkwang","d":80,"v":3.3,"e":1},{"s":"Woonkwang","d":83,"v":3.3,"e":1},{"s":"Woonkwang","d":88,"v":5,"e":1},{"s":"Woonkwang","d":91,"v":5.5,"e":1},{"s":"Woonkwang","d":94,"v":3.6,"e":0.8},{"s":"Woonkwang","d":98,"v":5,"e":1},{"s":"Woonkwang","d":102,"v":8,"e":1},{"s":"Woonkwang","d":105,"v":12.8,"e":2},{"s":"Woonkwang","d":108,"v":10.8,"e":1.5}
],
"R12":[
{"s":"Odae","d":5,"v":0.3,"e":0.2},{"s":"Odae","d":9,"v":1.2,"e":0.3},{"s":"Odae","d":13,"v":1.3,"e":0.5},{"s":"Odae","d":16,"v":2.8,"e":0.8},{"s":"Odae","d":20,"v":2.7,"e":0.5},{"s":"Odae","d":23,"v":2.7,"e":0.5},{"s":"Odae","d":27,"v":2.6,"e":0.5},{"s":"Odae","d":30,"v":2.1,"e":0.6},{"s":"Odae","d":34,"v":4.5,"e":1},{"s":"Odae","d":37,"v":3.5,"e":0.8},{"s":"Odae","d":41,"v":4.6,"e":0.6},{"s":"Odae","d":44,"v":5.7,"e":1.3},{"s":"Odae","d":48,"v":5.6,"e":1.5},{"s":"Odae","d":51,"v":13.4,"e":0.5},{"s":"Odae","d":55,"v":11.3,"e":1.3},{"s":"Odae","d":58,"v":8.1,"e":1},{"s":"Odae","d":62,"v":4.4,"e":1.2},{"s":"Odae","d":65,"v":7.8,"e":1.2},{"s":"Odae","d":69,"v":12,"e":3},{"s":"Odae","d":72,"v":8.8,"e":1.5},{"s":"Odae","d":75,"v":9.1,"e":1.2},{"s":"Odae","d":79,"v":10.1,"e":1.5},{"s":"Odae","d":83,"v":9.4,"e":2.5},{"s":"Odae","d":86,"v":7.5,"e":1.2},{"s":"Odae","d":90,"v":5.6,"e":1},{"s":"Odae","d":93,"v":8.7,"e":2.5},{"s":"Odae","d":97,"v":2.1,"e":1.5},{"s":"Odae","d":99,"v":7.3,"e":2.5},{"s":"Odae","d":104,"v":8.3,"e":1.5},{"s":"Odae","d":107,"v":14.7,"e":6.5},{"s":"Odae","d":111,"v":1.7,"e":0.5},
{"s":"Woonkwang","d":5,"v":0.3,"e":0.1},{"s":"Woonkwang","d":9,"v":1.2,"e":0.3},{"s":"Woonkwang","d":13,"v":1.4,"e":0.3},{"s":"Woonkwang","d":16,"v":2.4,"e":0.5},{"s":"Woonkwang","d":20,"v":2.7,"e":2},{"s":"Woonkwang","d":23,"v":2.7,"e":0.8},{"s":"Woonkwang","d":27,"v":2.7,"e":0.8},{"s":"Woonkwang","d":30,"v":2.9,"e":0.5},{"s":"Woonkwang","d":34,"v":4,"e":1},{"s":"Woonkwang","d":37,"v":2.7,"e":1},{"s":"Woonkwang","d":41,"v":4.3,"e":0.5},{"s":"Woonkwang","d":44,"v":4.3,"e":0.8},{"s":"Woonkwang","d":48,"v":2.9,"e":1.5},{"s":"Woonkwang","d":51,"v":11.8,"e":1},{"s":"Woonkwang","d":55,"v":8.6,"e":2},{"s":"Woonkwang","d":58,"v":11.7,"e":1.5},{"s":"Woonkwang","d":62,"v":5.8,"e":1.2},{"s":"Woonkwang","d":65,"v":10.8,"e":2.5},{"s":"Woonkwang","d":69,"v":14.6,"e":6.5},{"s":"Woonkwang","d":72,"v":15,"e":2.5},{"s":"Woonkwang","d":75,"v":10.9,"e":2},{"s":"Woonkwang","d":79,"v":14.2,"e":1},{"s":"Woonkwang","d":83,"v":9.4,"e":2.5},{"s":"Woonkwang","d":86,"v":7.5,"e":1.2},{"s":"Woonkwang","d":90,"v":6.5,"e":1.5},{"s":"Woonkwang","d":93,"v":5.9,"e":1},{"s":"Woonkwang","d":97,"v":1.3,"e":1},{"s":"Woonkwang","d":99,"v":5.4,"e":1},{"s":"Woonkwang","d":104,"v":5.3,"e":1},{"s":"Woonkwang","d":107,"v":7.2,"e":2},{"s":"Woonkwang","d":111,"v":4.6,"e":1.5}
]
},
"spacing":0,
"bounds":"full",
"resolve":{"scale":{"x":"independent","y":"independent","shape":"independent","fill":"independent"},"axis":{"x":"independent","y":"independent"},"legend":{"shape":"independent","fill":"independent"}},
"hconcat":[
{
"title":{"text":"Late-maturing","fontSize":13,"fontWeight":"bold","anchor":"middle","offset":3,"dx":17},
"spacing":0,
"bounds":"flush",
"resolve":{"scale":{"x":"independent","y":"independent","shape":"independent","fill":"independent"},"axis":{"x":"independent","y":"independent"},"legend":{"shape":"independent","fill":"independent"}},
"vconcat":[
{
"width":274,"height":172,
"data":{"name":"L10"},
"title":{"text":"2010","anchor":"start","frame":"group","offset":-14,"dx":4,"fontSize":10,"fontWeight":"bold"},
"encoding":{
 "x":{"field":"d","type":"quantitative","scale":{"domain":[0,130],"nice":false,"zero":false},"axis":{"values":[20,40,60,80,100,120],"labels":false,"tickSize":-4,"title":null}},
 "y":{"field":"v","type":"quantitative","scale":{"domain":[-5.5,80.5],"nice":false,"zero":false},"axis":{"values":[0,20,40,60],"tickSize":3,"labelPadding":3,"title":null}}
},
"layer":[
 {"mark":{"type":"errorbar","ticks":{"size":6},"color":"black","thickness":0.8,"clip":true},"encoding":{"yError":{"field":"e"}}},
 {"mark":{"type":"line","color":"#222","strokeWidth":1,"clip":true},"encoding":{"detail":{"field":"s"}}},
 {"mark":{"type":"point","filled":true,"size":45,"stroke":"black","strokeWidth":1,"opacity":1,"clip":true},
  "encoding":{
   "shape":{"field":"s","type":"nominal","scale":{"domain":["Chuchung","Dongjin","Ilmi","Junam","Nampyeong","Samkwang"],"range":["circle","circle","triangle-down","triangle-up","square","square"]},
     "legend":{"title":null,"orient":"top-right","offset":7}},
   "fill":{"field":"s","type":"nominal","scale":{"domain":["Chuchung","Dongjin","Ilmi","Junam","Nampyeong","Samkwang"],"range":["black","white","black","white","black","white"]},"legend":null}
  }}
]
},
{
"width":274,"height":171,
"data":{"name":"L11"},
"title":{"text":"2011","anchor":"start","frame":"group","offset":-14,"dx":4,"fontSize":10,"fontWeight":"bold"},
"encoding":{
 "x":{"field":"d","type":"quantitative","scale":{"domain":[0,130],"nice":false,"zero":false},"axis":{"values":[20,40,60,80,100,120],"labels":false,"tickSize":-4,"title":null}},
 "y":{"field":"v","type":"quantitative","scale":{"domain":[-5,80],"nice":false,"zero":false},"axis":{"values":[0,20,40,60],"tickSize":3,"labelPadding":3,"title":"CH₄ emission rate (mg CH₄-C m⁻² h⁻¹)","titlePadding":22}}
},
"layer":[
 {"mark":{"type":"errorbar","ticks":{"size":6},"color":"black","thickness":0.8,"clip":true},"encoding":{"yError":{"field":"e"}}},
 {"mark":{"type":"line","color":"#222","strokeWidth":1,"clip":true},"encoding":{"detail":{"field":"s"}}},
 {"mark":{"type":"point","filled":true,"size":45,"stroke":"black","strokeWidth":1,"opacity":1,"clip":true},
  "encoding":{
   "shape":{"field":"s","type":"nominal","scale":{"domain":["Chuchung","Dongjin","Ilmi","Junam","Nampyeong","Samkwang"],"range":["circle","circle","triangle-down","triangle-up","square","square"]},"legend":null},
   "fill":{"field":"s","type":"nominal","scale":{"domain":["Chuchung","Dongjin","Ilmi","Junam","Nampyeong","Samkwang"],"range":["black","white","black","white","black","white"]},"legend":null}
  }}
]
},
{
"width":274,"height":171,
"data":{"name":"L12"},
"title":{"text":"2012","anchor":"start","frame":"group","offset":-14,"dx":4,"fontSize":10,"fontWeight":"bold"},
"encoding":{
 "x":{"field":"d","type":"quantitative","scale":{"domain":[0,130],"nice":false,"zero":false},"axis":{"values":[20,40,60,80,100,120],"tickSize":-4,"labelPadding":8,"title":null}},
 "y":{"field":"v","type":"quantitative","scale":{"domain":[0,40],"nice":false,"zero":false},"axis":{"values":[10,20,30],"tickSize":3,"labelPadding":3,"title":null}}
},
"layer":[
 {"mark":{"type":"errorbar","ticks":{"size":6},"color":"black","thickness":0.8,"clip":true},"encoding":{"yError":{"field":"e"}}},
 {"mark":{"type":"line","color":"#222","strokeWidth":1,"clip":true},"encoding":{"detail":{"field":"s"}}},
 {"mark":{"type":"point","filled":true,"size":45,"stroke":"black","strokeWidth":1,"opacity":1,"clip":true},
  "encoding":{
   "shape":{"field":"s","type":"nominal","scale":{"domain":["Chuchung","Dongjin","Ilmi","Junam","Nampyeong","Samkwang"],"range":["circle","circle","triangle-down","triangle-up","square","square"]},"legend":null},
   "fill":{"field":"s","type":"nominal","scale":{"domain":["Chuchung","Dongjin","Ilmi","Junam","Nampyeong","Samkwang"],"range":["black","white","black","white","black","white"]},"legend":null}
  }}
]
}
]
},
{
"title":{"text":"Early-maturing","fontSize":13,"fontWeight":"bold","anchor":"middle","offset":3,"dx":-21},
"spacing":0,
"bounds":"flush",
"resolve":{"scale":{"x":"independent","y":"independent","shape":"independent","fill":"independent"},"axis":{"x":"independent","y":"independent"},"legend":{"shape":"independent","fill":"independent"}},
"vconcat":[
{
"width":273,"height":172,
"data":{"name":"R10"},
"title":{"text":"2010","anchor":"start","frame":"group","offset":-14,"dx":4,"fontSize":10,"fontWeight":"bold"},
"encoding":{
 "x":{"field":"d","type":"quantitative","scale":{"domain":[0,125],"nice":false,"zero":false},"axis":{"values":[20,40,60,80,100,120],"labels":false,"tickSize":-4,"title":null}},
 "y":{"field":"v","type":"quantitative","scale":{"domain":[-5.5,80.5],"nice":false,"zero":false},"axis":{"orient":"right","values":[0,20,40,60],"tickSize":-4,"labelPadding":12,"title":null}}
},
"layer":[
 {"mark":{"type":"errorbar","ticks":{"size":6},"color":"black","thickness":0.8,"clip":true},"encoding":{"yError":{"field":"e"}}},
 {"mark":{"type":"line","color":"#222","strokeWidth":1,"clip":true},"encoding":{"detail":{"field":"s"}}},
 {"mark":{"type":"point","shape":"circle","filled":true,"size":45,"stroke":"black","strokeWidth":1,"opacity":1,"clip":true},
  "encoding":{
   "fill":{"field":"s","type":"nominal","scale":{"domain":["Odae","Woonkwang"],"range":["black","white"]},
     "legend":{"title":null,"orient":"top-right","offset":5,"symbolType":"M-3.8,0H-1M1,0H3.8M-1,0A1,1,0,1,0,1,0A1,1,0,1,0,-1,0Z","symbolStrokeColor":"black","symbolStrokeWidth":1}}
  }}
]
},
{
"width":273,"height":171,
"data":{"name":"R11"},
"title":{"text":"2011","anchor":"start","frame":"group","offset":-14,"dx":4,"fontSize":10,"fontWeight":"bold"},
"encoding":{
 "x":{"field":"d","type":"quantitative","scale":{"domain":[0,125],"nice":false,"zero":false},"axis":{"values":[20,40,60,80,100,120],"labels":false,"tickSize":-4,"title":null}},
 "y":{"field":"v","type":"quantitative","scale":{"domain":[-5,80],"nice":false,"zero":false},"axis":{"orient":"right","values":[0,20,40,60],"tickSize":-4,"labelPadding":12,"title":"CH₄ emission rate (mg CH₄-C m⁻² h⁻¹)","titlePadding":16}}
},
"layer":[
 {"mark":{"type":"errorbar","ticks":{"size":6},"color":"black","thickness":0.8,"clip":true},"encoding":{"yError":{"field":"e"}}},
 {"mark":{"type":"line","color":"#222","strokeWidth":1,"clip":true},"encoding":{"detail":{"field":"s"}}},
 {"mark":{"type":"point","shape":"circle","filled":true,"size":45,"stroke":"black","strokeWidth":1,"opacity":1,"clip":true},
  "encoding":{
   "fill":{"field":"s","type":"nominal","scale":{"domain":["Odae","Woonkwang"],"range":["black","white"]},"legend":null}
  }}
]
},
{
"width":273,"height":171,
"data":{"name":"R12"},
"title":{"text":"2012","anchor":"start","frame":"group","offset":-14,"dx":4,"fontSize":10,"fontWeight":"bold"},
"encoding":{
 "x":{"field":"d","type":"quantitative","scale":{"domain":[0,125],"nice":false,"zero":false},"axis":{"values":[20,40,60,80,100,120],"tickSize":-4,"labelPadding":8,"title":null}},
 "y":{"field":"v","type":"quantitative","scale":{"domain":[0,33],"nice":false,"zero":false},"axis":{"orient":"right","values":[10,20,30],"tickSize":-4,"labelPadding":12,"title":null}}
},
"layer":[
 {"mark":{"type":"errorbar","ticks":{"size":6},"color":"black","thickness":0.8,"clip":true},"encoding":{"yError":{"field":"e"}}},
 {"mark":{"type":"line","color":"#222","strokeWidth":1,"clip":true},"encoding":{"detail":{"field":"s"}}},
 {"mark":{"type":"point","shape":"circle","filled":true,"size":45,"stroke":"black","strokeWidth":1,"opacity":1,"clip":true},
  "encoding":{
   "fill":{"field":"s","type":"nominal","scale":{"domain":["Odae","Woonkwang"],"range":["black","white"]},"legend":null}
  }}
]
}
]
}
]
}
